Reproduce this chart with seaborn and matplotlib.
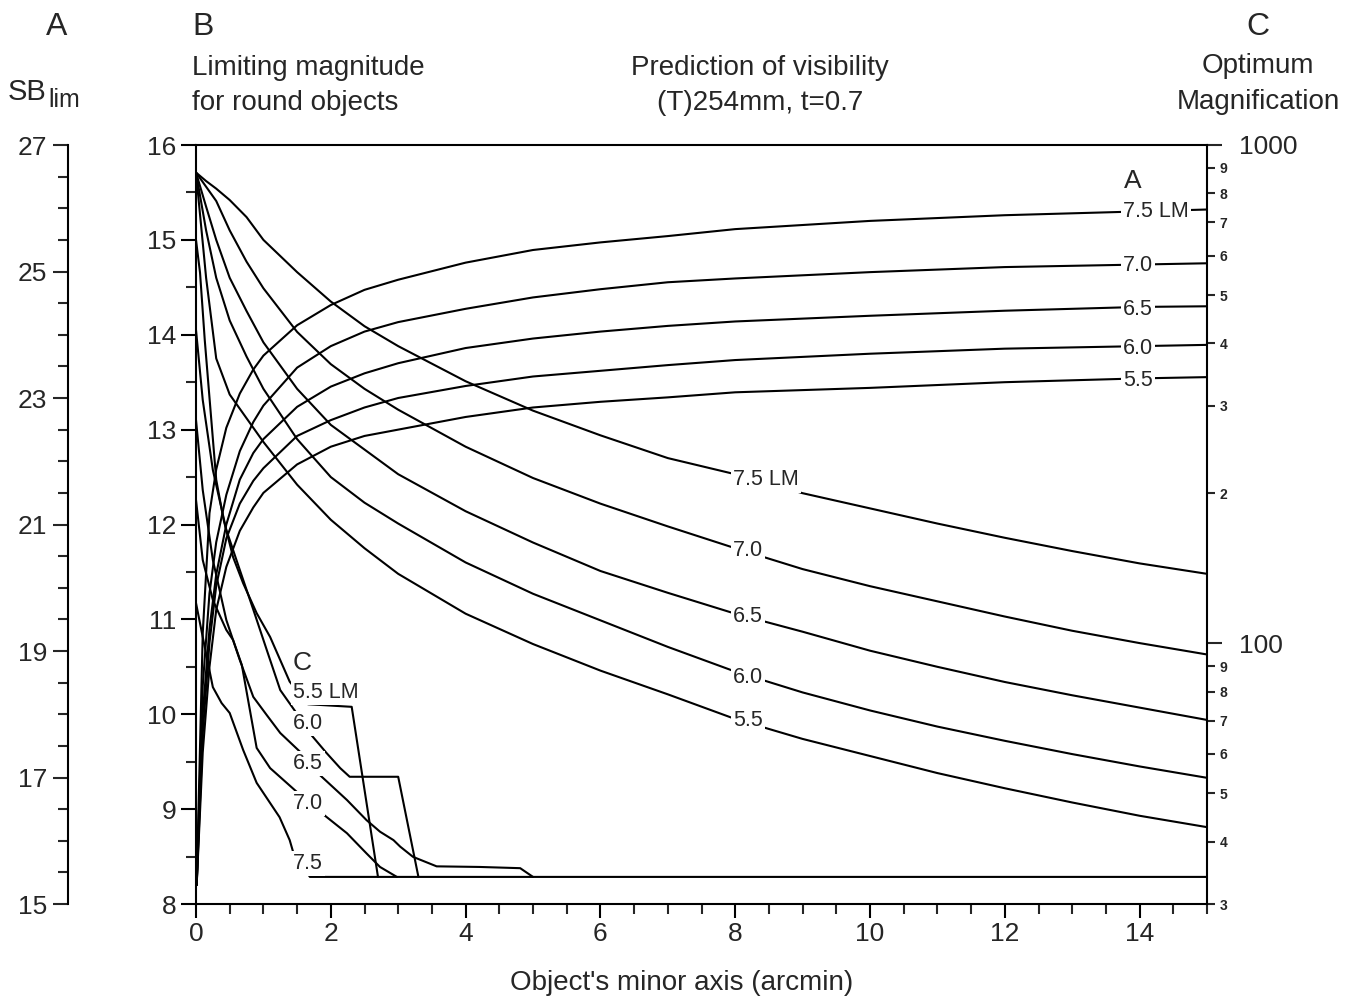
import numpy as np
import pandas as pd
import matplotlib
matplotlib.use("Agg")
import matplotlib.pyplot as plt
import seaborn as sns
from matplotlib.ticker import MultipleLocator, FixedLocator, FuncFormatter

sns.set_style("ticks")
plt.rcParams["font.family"] = ["Liberation Sans", "DejaVu Sans"]

# ---- B: limiting magnitude for round objects (falling curves) ----
x_lim = [0, 0.15, 0.3, 0.5, 0.75, 1.0, 1.5, 2.0, 2.5, 3.0, 4.0, 5.0, 6.0, 7.0,
         8.0, 9.0, 10.0, 11.0, 12.0, 13.0, 14.0, 15.0]
lim_75 = [15.71, 15.62, 15.54, 15.42, 15.24, 15.00, 14.66, 14.35, 14.09, 13.88, 13.51,
          13.20, 12.94, 12.70, 12.53, 12.33, 12.17, 12.01, 11.86, 11.72, 11.59, 11.48]
lim_70 = [15.71, 15.56, 15.41, 15.10, 14.77, 14.49, 14.03, 13.69, 13.43, 13.21, 12.82,
          12.49, 12.22, 11.98, 11.75, 11.53, 11.35, 11.19, 11.03, 10.88, 10.75, 10.63]
lim_65 = [15.71, 15.35, 15.00, 14.60, 14.25, 13.92, 13.43, 13.05, 12.79, 12.53, 12.14,
          11.81, 11.51, 11.28, 11.06, 10.87, 10.67, 10.50, 10.34, 10.20, 10.07, 9.94]
lim_60 = [15.71, 15.10, 14.60, 14.15, 13.77, 13.43, 12.90, 12.50, 12.23, 12.01, 11.60,
          11.27, 10.99, 10.71, 10.45, 10.23, 10.04, 9.87, 9.72, 9.58, 9.45, 9.33]
lim_55 = [15.71, 14.60, 13.75, 13.37, 13.12, 12.87, 12.42, 12.05, 11.75, 11.48, 11.06,
          10.74, 10.46, 10.21, 9.95, 9.74, 9.56, 9.38, 9.22, 9.07, 8.93, 8.81]

# ---- A: SB_lim (rising curves) ----
x_sb = [0.01, 0.1, 0.2, 0.3, 0.45, 0.65, 0.85, 1.0, 1.5, 2.0, 2.5, 3.0, 4.0, 5.0,
        6.0, 7.0, 8.0, 10.0, 12.0, 14.0, 15.0]
sb_75 = [15.3, 19.28, 21.18, 21.87, 22.53, 23.07, 23.45, 23.67, 24.15, 24.47, 24.71,
         24.87, 25.14, 25.34, 25.46, 25.56, 25.67, 25.80, 25.89, 25.95, 25.98]
sb_70 = [15.3, 18.45, 19.91, 20.72, 21.47, 22.16, 22.62, 22.88, 23.48, 23.82, 24.05,
         24.20, 24.41, 24.59, 24.72, 24.83, 24.89, 24.99, 25.07, 25.11, 25.13]
sb_65 = [15.3, 18.0, 19.35, 20.21, 21.0, 21.71, 22.13, 22.35, 22.86, 23.18, 23.39,
         23.55, 23.79, 23.94, 24.05, 24.14, 24.21, 24.30, 24.38, 24.44, 24.45]
sb_60 = [15.3, 17.7, 19.13, 20.03, 20.78, 21.33, 21.69, 21.89, 22.40, 22.65, 22.85,
         23.0, 23.19, 23.34, 23.43, 23.52, 23.60, 23.70, 23.78, 23.82, 23.84]
sb_55 = [15.3, 17.4, 18.75, 19.65, 20.33, 20.90, 21.27, 21.50, 21.95, 22.23, 22.40,
         22.50, 22.70, 22.85, 22.94, 23.01, 23.09, 23.16, 23.25, 23.31, 23.33]

# ---- C: optimum magnification ----
x_c75 = [0, 0.1, 0.25, 0.38, 0.5, 0.7, 0.9, 1.07, 1.24, 1.39, 1.44, 1.69, 15.0]
m_c75 = [120.5, 103.0, 81.7, 75.9, 72.5, 61.1, 52.5, 48.5, 44.8, 40.3, 38.2, 34.0, 34.0]
x_c70 = [0, 0.1, 0.25, 0.45, 0.55, 0.68, 0.9, 1.1, 1.5, 1.87, 2.24, 2.53, 2.73, 2.98]
m_c70 = [194.0, 147.0, 122.2, 106.4, 101.6, 90.5, 61.7, 56.2, 50.3, 45.6, 41.6, 37.9, 35.6, 34.0]
x_c65 = [0, 0.1, 0.25, 0.45, 0.65, 0.85, 1.05, 1.25, 1.55, 1.84, 2.24, 2.53, 2.73, 2.93,
         3.03, 3.22, 3.57, 4.21, 4.81, 5.0]
m_c65 = [280.7, 203.1, 147.0, 111.4, 92.6, 78.1, 71.8, 66.1, 60.5, 54.4, 48.5, 44.2, 41.9,
         40.3, 39.1, 37.3, 35.7, 35.6, 35.4, 34.0]
x_c60 = [0, 0.1, 0.25, 0.45, 0.65, 0.85, 1.05, 1.25, 1.49, 1.69, 1.94, 2.14, 2.28, 3.0, 3.30]
m_c60 = [425.5, 307.9, 222.8, 168.9, 140.4, 116.9, 97.0, 80.6, 72.5, 66.0, 60.2, 56.2, 54.0,
         54.0, 34.0]
x_c55 = [0, 0.06, 0.13, 0.3, 0.41, 0.55, 0.7, 0.9, 1.1, 1.39, 1.66, 2.31, 2.70]
m_c55 = [645, 554, 406, 213, 177, 149, 132, 115, 103, 83.8, 75.5, 74.6, 34.0]

levels = ["5.5", "6.0", "6.5", "7.0", "7.5"]


def long_df(xs, ys, lvls):
    parts = [pd.DataFrame({"x": x, "y": y, "lm": l}) for x, y, l in zip(xs, ys, lvls)]
    return pd.concat(parts, ignore_index=True)


df_lim = long_df([x_lim] * 5, [lim_55, lim_60, lim_65, lim_70, lim_75], levels)
df_sb = long_df([x_sb] * 5, [sb_55, sb_60, sb_65, sb_70, sb_75], levels)
df_c = long_df([x_c55, x_c60, x_c65, x_c70, x_c75],
               [m_c55, m_c60, m_c65, m_c70, m_c75], levels)

W, H = 1362, 999
fig = plt.figure(figsize=(W / 100, H / 100), dpi=100)
ax = fig.add_axes([196 / W, 1 - 904 / H, 1011 / W, 759 / H])
ax_sb = ax.twinx()
ax_c = ax.twinx()

lw = 1.5
sns.lineplot(data=df_lim, x="x", y="y", units="lm", estimator=None, sort=False,
             color="black", lw=lw, ax=ax, legend=False)
sns.lineplot(data=df_sb, x="x", y="y", units="lm", estimator=None, sort=False,
             color="black", lw=lw, ax=ax_sb, legend=False)
sns.lineplot(data=df_c, x="x", y="y", units="lm", estimator=None, sort=False,
             color="black", lw=lw, ax=ax_c, legend=False)

# main axis (B)
ax.set_xlim(0, 15)
ax.set_ylim(8, 16)
ax.set_xlabel("")
ax.set_ylabel("")
ax.xaxis.set_major_locator(MultipleLocator(2))
ax.xaxis.set_minor_locator(MultipleLocator(0.5))
ax.yaxis.set_major_locator(MultipleLocator(1))
ax.yaxis.set_minor_locator(MultipleLocator(0.5))
ax.tick_params(axis="both", which="major", direction="out", length=11, width=1.5,
               labelsize=19, pad=3, color="black")
ax.tick_params(axis="both", which="minor", direction="out", length=7, width=1.5)
ax.tick_params(axis="x", which="major", length=10)
for s in ["left", "bottom", "top"]:
    ax.spines[s].set_linewidth(1.5)
    ax.spines[s].set_color("black")
ax.spines["right"].set_visible(False)

# A axis (SB_lim), detached to the left
ax_sb.set_ylim(15, 27)
ax_sb.set_ylabel("")
for s in ax_sb.spines.values():
    s.set_visible(False)
ax_sb.spines["left"].set_visible(True)
ax_sb.spines["left"].set_position(("axes", (68 - 196) / 1011))
ax_sb.spines["left"].set_linewidth(1.5)
ax_sb.spines["left"].set_color("black")
ax_sb.yaxis.set_ticks_position("left")
ax_sb.yaxis.set_major_locator(FixedLocator([15, 17, 19, 21, 23, 25, 27]))
ax_sb.yaxis.set_minor_locator(MultipleLocator(0.5))
ax_sb.tick_params(axis="y", which="major", direction="out", length=11, width=1.5,
                  labelsize=19, pad=4)
ax_sb.tick_params(axis="y", which="minor", direction="out", length=7, width=1.5)

# C axis (optimum magnification), log
ax_c.set_yscale("log")
ax_c.set_ylim(30, 1000)
ax_c.set_ylabel("")
for s in ax_c.spines.values():
    s.set_visible(False)
ax_c.spines["right"].set_visible(True)
ax_c.spines["right"].set_linewidth(1.5)
ax_c.spines["right"].set_color("black")
ax_c.yaxis.set_major_locator(FixedLocator([100, 1000]))
ax_c.yaxis.set_major_formatter(FuncFormatter(lambda v, p: f"{int(v)}"))
minor_mag = [30, 40, 50, 60, 70, 80, 90, 200, 300, 400, 500, 600, 700, 800, 900]
ax_c.yaxis.set_minor_locator(FixedLocator(minor_mag))
ax_c.yaxis.set_minor_formatter(
    FuncFormatter(lambda v, p: f"{int(round(v / 10 ** np.floor(np.log10(v))))}"))
ax_c.tick_params(axis="y", which="major", direction="out", length=11, width=1.5,
                 labelsize=19, pad=12)
ax_c.tick_params(axis="y", which="minor", direction="out", length=6, width=1.5,
                 labelsize=10, pad=3)
for t in ax_c.yaxis.get_minorticklabels():
    t.set_fontweight("bold")

# curve labels (drawn on the top-most axes, in B coordinates)
box = dict(facecolor="white", edgecolor="none", pad=1.5)
lab_fs = 15.5


def lab(x, y, s, ha="left", fs=lab_fs):
    ax_c.text(x, y, s, transform=ax.transData, ha=ha, va="center", fontsize=fs,
              bbox=box, zorder=10)


lab(13.90, 15.62, "A", ha="center", fs=19)
lab(13.75, 15.30, "7.5 LM")
lab(13.75, 14.73, "7.0")
lab(13.75, 14.27, "6.5")
lab(13.75, 13.86, "6.0")
lab(13.75, 13.52, "5.5")

lab(7.97, 12.47, "7.5 LM")
lab(7.97, 11.73, "7.0")
lab(7.97, 11.03, "6.5")
lab(7.97, 10.39, "6.0")
lab(7.97, 9.93, "5.5")

lab(1.57, 10.54, "C", ha="center", fs=19)
lab(1.44, 10.23, "5.5 LM")
lab(1.44, 9.90, "6.0")
lab(1.44, 9.48, "6.5")
lab(1.44, 9.06, "7.0")
lab(1.44, 8.43, "7.5")


# header texts
def ftext(px, py, s, ha="center", fs=20):
    fig.text(px / W, 1 - py / H, s, ha=ha, va="center", fontsize=fs)


ftext(57, 27, "A", fs=23)
ftext(192, 27, "B", ha="left", fs=23)
ftext(1258, 27, "C", fs=23)
ftext(46, 92, "SB", ha="right", fs=21)
ftext(48, 100, "lim", ha="left", fs=18)
ftext(192, 68, "Limiting magnitude", ha="left")
ftext(192, 103, "for round objects", ha="left")
ftext(760, 68, "Prediction of visibility")
ftext(760, 103, "(T)254mm, t=0.7")
ftext(1258, 66, "Optimum")
ftext(1258, 102, "Magnification")
ftext(682, 983, "Object's minor axis (arcmin)")

fig.savefig("out.png", dpi=100, facecolor="white")
